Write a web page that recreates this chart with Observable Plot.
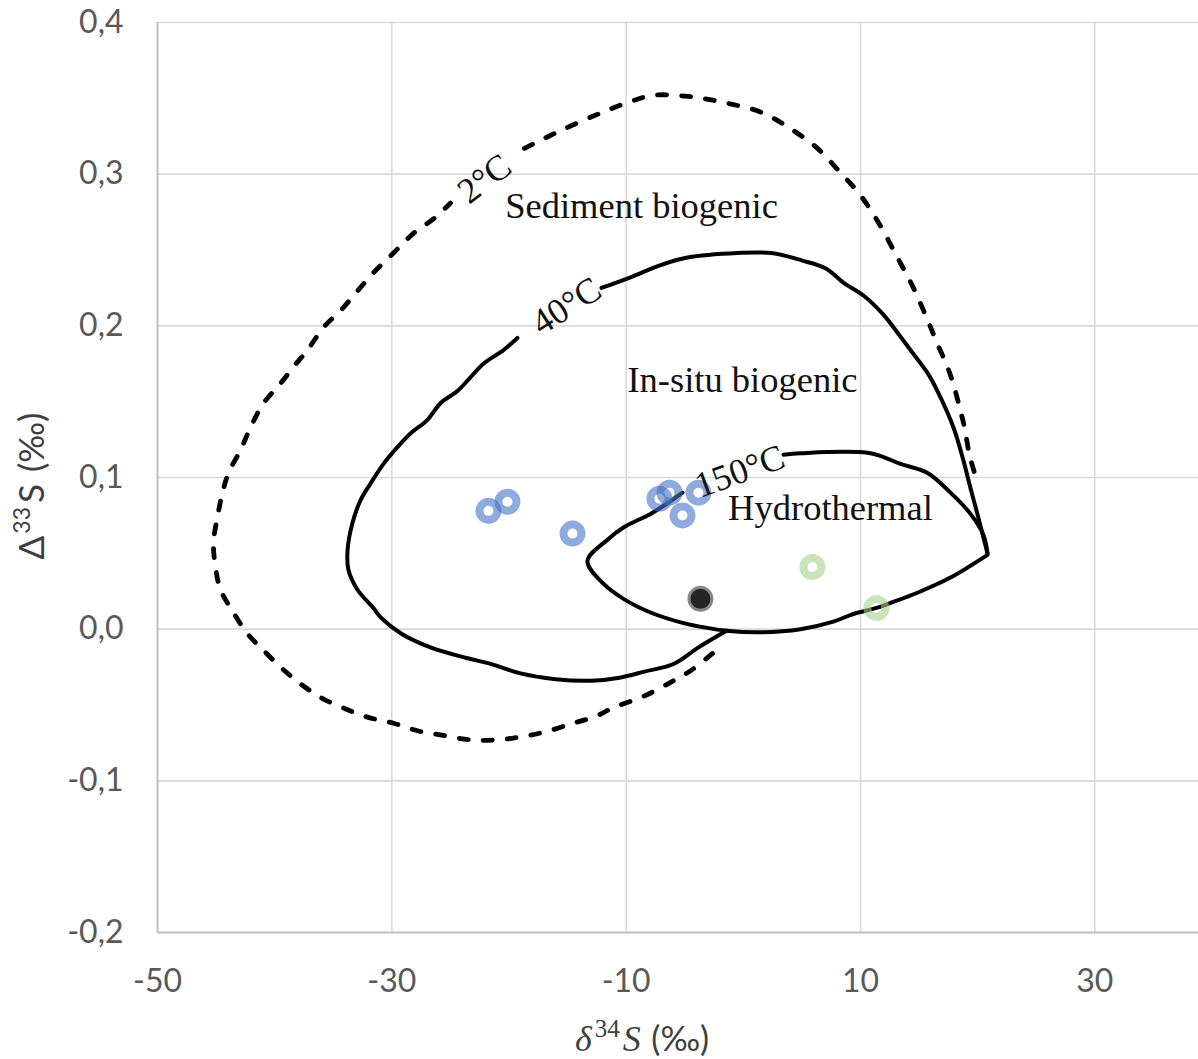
<!DOCTYPE html>
<html><head><meta charset="utf-8">
<script src="https://cdn.jsdelivr.net/npm/d3@7"></script>
<script src="https://cdn.jsdelivr.net/npm/@observablehq/plot@0.6"></script>
<style>
body{margin:0;background:#fff;}
#chart svg{display:block;}
</style></head><body><div id="chart"></div>
<script>
// axes
const xTicks = [-50, -30, -10, 10, 30];
const yTicks = [-0.2, -0.1, 0, 0.1, 0.2, 0.3, 0.4];
const xDomain = [-50, 38.85];
const yDomain = [-0.2, 0.4];

// 2°C isotherm (dashed), two pieces split by its label
const sedimentLower = [[-2.63,-0.016],[-4.42,-0.027],[-5.96,-0.034],[-8.44,-0.044],[-11.17,-0.052],[-12.45,-0.057],[-14.50,-0.062],[-17.06,-0.068],[-19.02,-0.071],[-20.98,-0.073],[-23.29,-0.073],[-25.59,-0.070],[-27.81,-0.067],[-29.86,-0.062],[-32.08,-0.058],[-34.13,-0.052],[-36.09,-0.045],[-37.80,-0.036],[-39.50,-0.025],[-40.95,-0.014],[-42.32,-0.003],[-43.60,0.012],[-44.62,0.026],[-45.05,0.041],[-45.22,0.057],[-44.88,0.074],[-44.45,0.090],[-43.94,0.103],[-42.92,0.118],[-42.06,0.133],[-40.95,0.149],[-39.50,0.162],[-38.39,0.173],[-37.20,0.184],[-35.83,0.199],[-34.38,0.210],[-32.93,0.223],[-31.57,0.235],[-29.86,0.248],[-28.15,0.261],[-26.36,0.271],[-24.99,0.281]];
const sedimentUpper = [[-18.68,0.317],[-15.52,0.329],[-12.28,0.340],[-9.97,0.347],[-7.67,0.352],[-4.42,0.351],[-1.52,0.347],[1.46,0.341],[4.02,0.330],[6.33,0.317],[8.29,0.301],[9.91,0.287],[11.54,0.268],[13.16,0.245],[14.52,0.225],[15.72,0.204],[16.57,0.188],[17.42,0.173],[18.02,0.159],[18.53,0.144],[18.88,0.133],[19.30,0.115],[19.90,0.099]];

// 40°C isotherm (solid)
const insituUpper = [[-12.11,0.225],[-9.63,0.232],[-7.07,0.240],[-4.77,0.245],[-0.50,0.248],[2.40,0.248],[5.05,0.243],[7.01,0.238],[8.63,0.228],[10.25,0.220],[11.88,0.208],[13.50,0.192],[14.27,0.184],[15.72,0.169],[16.57,0.157],[17.94,0.133],[18.79,0.111],[19.39,0.093],[19.98,0.076],[20.41,0.063],[20.84,0.050]];
const insituLower = [[-1.44,-0.001],[-3.83,-0.012],[-5.96,-0.023],[-8.44,-0.028],[-10.57,-0.032],[-12.96,-0.034],[-16.03,-0.033],[-19.10,-0.029],[-21.49,-0.023],[-23.63,-0.019],[-26.70,-0.012],[-29.18,-0.003],[-30.97,0.008],[-31.57,0.014],[-32.93,0.026],[-33.70,0.039],[-33.78,0.052],[-33.36,0.070],[-32.67,0.085],[-31.82,0.096],[-30.71,0.109],[-29.52,0.120],[-28.41,0.129],[-26.96,0.138],[-25.85,0.149],[-24.40,0.157],[-23.29,0.166],[-22.18,0.175],[-20.47,0.184],[-19.28,0.192]];

// 150°C isotherm (solid)
const hydroUpper = [[3.43,0.115],[4.88,0.116],[10.85,0.116],[13.41,0.109],[15.72,0.103],[17.68,0.090],[19.39,0.076],[20.50,0.062],[20.84,0.050]];
const hydroLower = [[20.84,0.049],[17.68,0.034],[14.86,0.024],[12.82,0.018],[11.36,0.014],[9.40,0.010],[7.69,0.005],[4.88,0.000],[1.46,-0.002],[-1.44,-0.001],[-3.23,0.001],[-5.11,0.004],[-7.92,0.011],[-10.23,0.020],[-11.94,0.030],[-13.30,0.045],[-11.59,0.059],[-10.23,0.067],[-7.92,0.076],[-6.47,0.083],[-5.19,0.090]];

// samples
const blueX = [-21.75, -20.13, -14.58, -7.16, -6.30, -5.19, -3.83];
const blueY = [0.078, 0.084, 0.063, 0.086, 0.090, 0.075, 0.090];
const greenX = [5.90, 11.36];
const greenY = [0.041, 0.014];
const darkX = [-3.66];
const darkY = [0.020];

// labels
const regionNames = ["Sediment biogenic", "In-situ biogenic", "Hydrothermal"];
const regionX = [-8.69, -0.07, 7.44];
const regionY = [0.279, 0.164, 0.080];
const isoNames = ["2°C", "40°C", "150°C"];
const isoX = [-22.09, -15.09, -0.30];
const isoY = [0.297, 0.213, 0.104];
const isoAngle = [-37, -33, -20];

const rows = (pts, seg) => pts.map(([x, y]) => ({x, y, seg}));
const dashedRows = [...rows(sedimentLower, "s1"), ...rows(sedimentUpper, "s2")];
const solidRows = [...rows(insituUpper, "i1"), ...rows(insituLower, "i2"), ...rows(hydroUpper, "h1"), ...rows(hydroLower, "h2")];
const pts = (xs, ys) => xs.map((x, i) => ({x, y: ys[i]}));
const fmtY = d => d.toFixed(1).replace(".", ",");

const chart = Plot.plot({
  width: 1198, height: 1059,
  marginLeft: 157, marginRight: 0, marginTop: 22, marginBottom: 127,
  x: {domain: xDomain},
  y: {domain: yDomain},
  style: {fontFamily: "Lato, 'Open Sans', sans-serif", fontSize: "32px", color: "#595959", background: "#fff", overflow: "visible"},
  marks: [
    Plot.gridX(xTicks.slice(1), {stroke: "#d9d9d9", strokeOpacity: 1, strokeWidth: 1.6}),
    Plot.gridY(yTicks.slice(1), {stroke: "#d9d9d9", strokeOpacity: 1, strokeWidth: 1.6}),
    Plot.ruleX([xDomain[0]], {stroke: "#bfbfbf", strokeWidth: 2}),
    Plot.ruleY([yDomain[0]], {stroke: "#bfbfbf", strokeWidth: 2}),
    Plot.axisX(xTicks, {tickSize: 0, tickPadding: 37, tickFormat: d => String(d), label: null, fontSize: 32}),
    Plot.axisY(yTicks, {tickSize: 0, tickPadding: 34, tickFormat: fmtY, label: null, fontSize: 32}),
    Plot.line(dashedRows, {x: "x", y: "y", z: "seg", stroke: "#000", strokeWidth: 4.8, strokeDasharray: "9,15", strokeLinecap: "round", curve: "catmull-rom"}),
    Plot.line(solidRows, {x: "x", y: "y", z: "seg", stroke: "#000", strokeWidth: 4, curve: "catmull-rom"}),
    Plot.dot(pts(blueX, blueY), {x: "x", y: "y", r: 9, fill: "none", stroke: "#4472c4", strokeOpacity: 0.6, strokeWidth: 8}),
    Plot.dot(pts(greenX, greenY), {x: "x", y: "y", r: 9, fill: "none", stroke: "#a9d18e", strokeOpacity: 0.6, strokeWidth: 8}),
    Plot.dot(pts(darkX, darkY), {x: "x", y: "y", r: 10, fill: "#262626", stroke: "#262626", strokeOpacity: 0.55, strokeWidth: 6}),
    Plot.text(regionNames.map((t, i) => ({t, x: regionX[i], y: regionY[i]})), {x: "x", y: "y", text: "t", fill: "#111", fontFamily: "'Liberation Serif', serif", fontSize: 36.5}),
    Plot.text(isoNames.map((t, i) => ({t, x: isoX[i], y: isoY[i], a: isoAngle[i]})), {x: "x", y: "y", text: "t", rotate: "a", fill: "#111", fontFamily: "'Liberation Serif', serif", fontSize: 36})
  ]
});
document.getElementById("chart").appendChild(chart);

// axis titles with math styling
const svg = d3.select(chart);
const xl = svg.append("text").attr("x", 642).attr("y", 1051).attr("text-anchor", "middle").attr("fill", "#404040").style("font-size", "36px");
xl.append("tspan").text("δ").style("font-family", "'Liberation Serif', serif").style("font-style", "italic");
xl.append("tspan").text("34").attr("dx", 3).attr("dy", -14).style("font-family", "'Liberation Serif', serif").style("font-size", "25px");
xl.append("tspan").text("S").attr("dx", 3).attr("dy", 14).style("font-family", "'Liberation Serif', serif").style("font-style", "italic");
xl.append("tspan").text(" (‰)").attr("dx", 2).style("font-family", "Lato, sans-serif").style("font-size", "34px");

const yl = svg.append("text").attr("transform", "translate(44,486) rotate(-90)").attr("text-anchor", "middle").attr("fill", "#404040").style("font-size", "35px").style("font-family", "Lato, sans-serif");
yl.append("tspan").text("Δ");
yl.append("tspan").text("33").attr("dx", 2).attr("dy", -14).style("font-size", "23px");
yl.append("tspan").text("S").attr("dx", 4).attr("dy", 14);
yl.append("tspan").text(" (‰)").attr("dx", 3);
</script></body></html>
